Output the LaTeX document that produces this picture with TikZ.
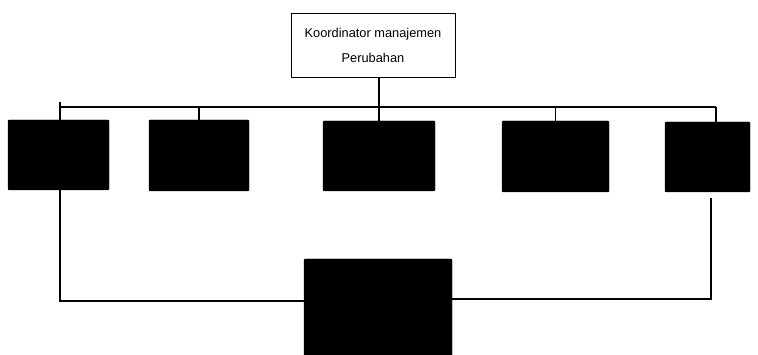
\documentclass[tikz,border=0pt]{standalone}
\usepackage{fontspec}
\setmainfont{Liberation Sans}
\begin{document}
\begin{tikzpicture}[x=1pt,y=-1pt,
  blk/.style={draw=black,fill=black,inner sep=0pt,rounded corners=1pt},
  ln/.style={line width=1.2pt,black},
  topbox/.style={draw=black,line width=0.9pt,inner sep=0pt,align=center,font=\fontsize{12.8}{25}\selectfont}]
\useasboundingbox (0,0) rectangle (758,355);
% top box
\node[topbox,minimum width=164pt,minimum height=64pt] (top) at (373,45)
  {Koordinator manajemen\\Perubahan};
% second row
\node[blk,minimum width=101pt,minimum height=70pt] (b1) at (58.5,155) {};
\node[blk,minimum width=100pt,minimum height=71pt] (b2) at (199,155.5) {};
\node[blk,minimum width=112pt,minimum height=70pt] (b3) at (379,156) {};
\node[blk,minimum width=107pt,minimum height=71pt] (b4) at (555.5,156.5) {};
\node[blk,minimum width=85pt,minimum height=70pt] (b5) at (707.5,157) {};
% bottom box
\node[blk,minimum width=148pt,minimum height=100pt] (big) at (378,309) {};
% bus
\coordinate (busL) at (60,107);
\coordinate (busR) at (716,107);
\coordinate (lt) at (60,102);
\coordinate (lb) at (60,301);
\coordinate (rt) at (711,198);
\coordinate (rb) at (711,299);
\draw[ln] (busL) -- (busR);
\draw[ln] (top.south -| b3.north) -- (b3.north);
\draw[ln] (busL -| b2.north) -- (b2.north);
\draw[ln] (busL -| b4.north) -- (b4.north);
\draw[ln] (busR) -- (busR |- b5.north);
\draw[ln] (lt) -- (b1.north -| lt);
\draw[ln] (b1.south -| lb) -- (lb) -- (lb -| big.west);
\draw[ln] (rt) -- (rb) -- (rb -| big.east);
\end{tikzpicture}
\end{document}
